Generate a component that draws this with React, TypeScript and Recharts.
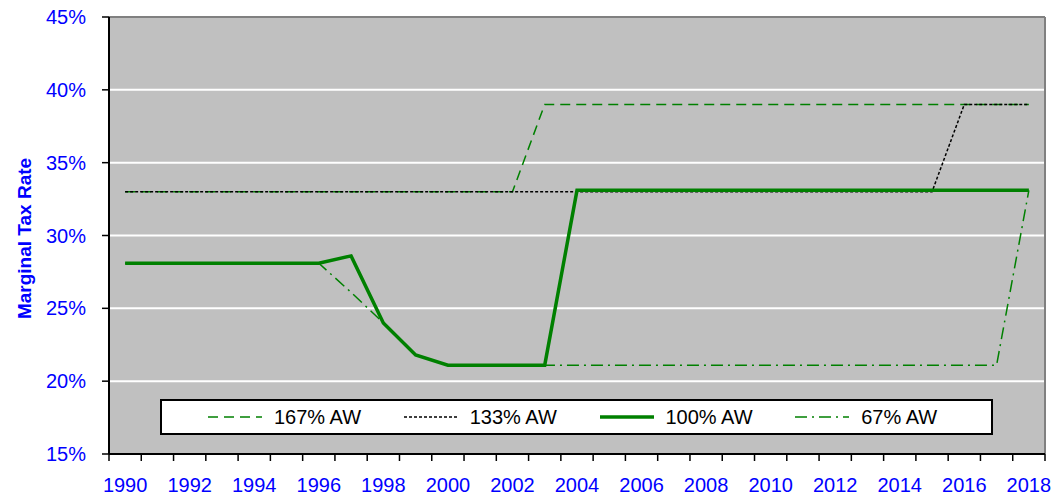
import { CartesianGrid, Line, LineChart, ReferenceLine, XAxis, YAxis } from "recharts";

const years = [
  1990, 1991, 1992, 1993, 1994, 1995, 1996, 1997, 1998, 1999, 2000, 2001, 2002, 2003, 2004,
  2005, 2006, 2007, 2008, 2009, 2010, 2011, 2012, 2013, 2014, 2015, 2016, 2017, 2018,
];

const aw167 = [33, 33, 33, 33, 33, 33, 33, 33, 33, 33, 33, 33, 33, 39, 39, 39, 39, 39, 39, 39, 39, 39, 39, 39, 39, 39, 39, 39, 39];
const aw133 = [33, 33, 33, 33, 33, 33, 33, 33, 33, 33, 33, 33, 33, 33, 33, 33, 33, 33, 33, 33, 33, 33, 33, 33, 33, 33, 39, 39, 39];
const aw100 = [28.1, 28.1, 28.1, 28.1, 28.1, 28.1, 28.1, 28.6, 24, 21.8, 21.1, 21.1, 21.1, 21.1, 33.1, 33.1, 33.1, 33.1, 33.1, 33.1, 33.1, 33.1, 33.1, 33.1, 33.1, 33.1, 33.1, 33.1, 33.1];
const aw67 = [28.1, 28.1, 28.1, 28.1, 28.1, 28.1, 28.1, 26.1, 24, 21.8, 21.1, 21.1, 21.1, 21.1, 21.1, 21.1, 21.1, 21.1, 21.1, 21.1, 21.1, 21.1, 21.1, 21.1, 21.1, 21.1, 21.1, 21.1, 33.1];

const yTicks = [15, 20, 25, 30, 35, 40, 45];
const gridValues = [20, 25, 30, 35, 40];
// tick marks sit on the year boundaries, labels in the middle of each year
const xBoundaries = [...years.map((y) => y - 0.5), years[years.length - 1] + 0.5];

const GREEN = "#008000";
const BLUE = "#0000ff";
const FONT = "'Liberation Sans', Arial, sans-serif";

const W = 1052;
const H = 497;
const PLOT_W = 936;
const HALF_YEAR = PLOT_W / years.length / 2;

const SERIES = [
  { key: "aw167", name: "167% AW", color: GREEN, width: 1.5, dash: "10 6" },
  { key: "aw133", name: "133% AW", color: "#000000", width: 1.5, dash: "3 2" },
  { key: "aw100", name: "100% AW", color: GREEN, width: 3.5, dash: undefined },
  { key: "aw67", name: "67% AW", color: GREEN, width: 1.5, dash: "12 5 2 5" },
];

const data = years.map((year, i) => ({
  year,
  aw167: aw167[i],
  aw133: aw133[i],
  aw100: aw100[i],
  aw67: aw67[i],
}));

function YearTick({ x, y, payload }: any) {
  const yr = payload.value + 0.5;
  if (yr % 2 !== 0 || yr > years[years.length - 1]) return null;
  return (
    <text x={x + HALF_YEAR} y={y} dy="0.71em" textAnchor="middle" fill={BLUE} fontSize={20} fontFamily={FONT}>
      {yr}
    </text>
  );
}

function AxisTitle({ viewBox }: any) {
  const cx = viewBox.x + 31;
  const cy = viewBox.y + viewBox.height / 2 + 3;
  return (
    <text
      x={cx}
      y={cy}
      transform={`rotate(-90 ${cx} ${cy})`}
      textAnchor="middle"
      fill={BLUE}
      fontSize={19}
      fontWeight="bold"
      fontFamily={FONT}
    >
      Marginal Tax Rate
    </text>
  );
}

function ChartLegend() {
  return (
    <div
      style={{
        position: "absolute",
        left: 160,
        top: 399,
        width: 833,
        height: 36,
        boxSizing: "border-box",
        border: "2px solid #000",
        background: "#fff",
        display: "flex",
        alignItems: "center",
        paddingLeft: 46,
        fontFamily: FONT,
        fontSize: 20,
        color: "#000",
      }}
    >
      {SERIES.map((s) => (
        <span key={s.key} style={{ display: "inline-flex", alignItems: "center", width: 201 }}>
          <svg width={54} height={10} style={{ marginRight: 12 }}>
            <line x1={0} y1={5} x2={54} y2={5} stroke={s.color} strokeWidth={s.width} strokeDasharray={s.dash} />
          </svg>
          <span>{s.name}</span>
        </span>
      ))}
    </div>
  );
}

export default function App() {
  return (
    <div style={{ position: "absolute", left: 0, top: 0, width: W, height: H, background: "#fff" }}>
      <LineChart width={W} height={H} data={data} margin={{ top: 17, right: 7, bottom: 0, left: 0 }}>
        <CartesianGrid
          fill="#c0c0c0"
          stroke="#ffffff"
          strokeWidth={2}
          vertical={false}
          horizontalValues={gridValues}
        />
        <ReferenceLine y={45} stroke="#808080" strokeWidth={2} />
        <ReferenceLine x={2018.5} stroke="#808080" strokeWidth={2} />
        <XAxis
          dataKey="year"
          type="number"
          domain={[1989.5, 2018.5]}
          ticks={xBoundaries}
          interval={0}
          height={43}
          tickSize={7}
          tickMargin={17}
          tick={<YearTick />}
          axisLine={{ stroke: "#000", strokeWidth: 2 }}
          tickLine={{ stroke: "#000", strokeWidth: 1.5 }}
        />
        <YAxis
          type="number"
          domain={[15, 45]}
          ticks={yTicks}
          interval={0}
          width={109}
          tickSize={7}
          tickMargin={16}
          tickFormatter={(v) => `${v}%`}
          tick={{ fill: BLUE, fontSize: 20, fontFamily: FONT }}
          axisLine={{ stroke: "#000", strokeWidth: 2 }}
          tickLine={{ stroke: "#000", strokeWidth: 1.5 }}
          label={<AxisTitle />}
        />
        {SERIES.map((s) => (
          <Line
            key={s.key}
            type="linear"
            dataKey={s.key}
            name={s.name}
            stroke={s.color}
            strokeWidth={s.width}
            strokeDasharray={s.dash}
            dot={false}
            activeDot={false}
            isAnimationActive={false}
          />
        ))}
      </LineChart>
      <ChartLegend />
    </div>
  );
}
